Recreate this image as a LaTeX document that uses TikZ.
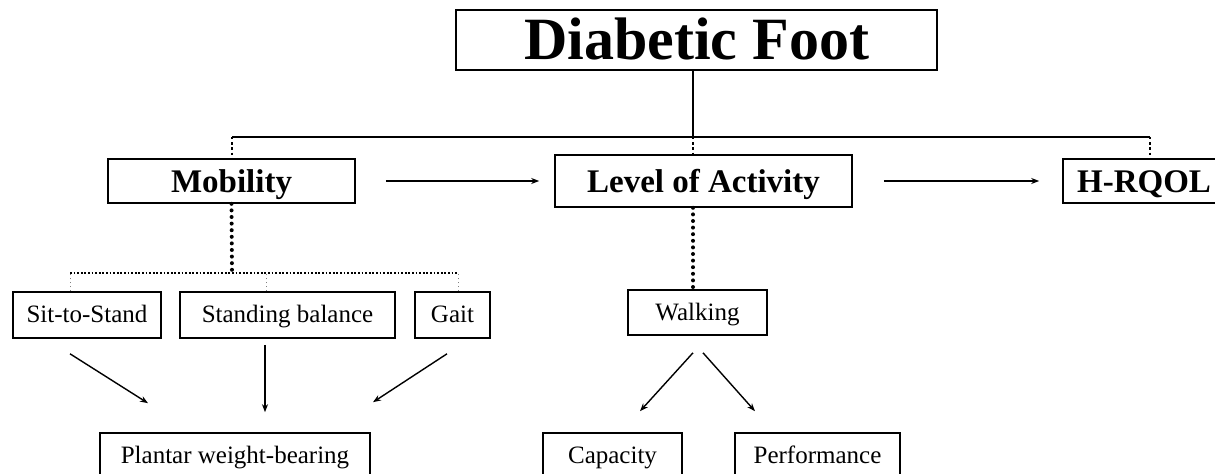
\documentclass[tikz,border=0pt]{standalone}
\usepackage{fontspec}
\setmainfont{Liberation Serif}
\usetikzlibrary{arrows,arrows.meta}

\begin{document}
\begin{tikzpicture}[
x=0.5pt, y=-0.5pt,
box/.style={draw, line width=0.8pt, inner sep=0pt, align=center},
title/.style={box, font=\fontsize{30}{34}\selectfont\bfseries, text height=21pt, text depth=1pt},
main/.style={box, font=\fontsize{16.5}{19}\selectfont\bfseries, text height=14pt, text depth=2pt},
sub/.style={box, font=\fontsize{12.5}{15}\selectfont, text height=10pt, text depth=2pt},
bar/.style={line width=1.4pt},
stem/.style={line width=0.8pt},
dotline/.style={line width=1pt, dash pattern=on 1.2pt off 1.4pt},
bigdot/.style={line width=2pt, line cap=round, dash pattern=on 0pt off 3.3pt},
thindot/.style={line width=0.5pt, gray, dash pattern=on 0.8pt off 1.2pt},
hdot/.style={line width=1pt, dash pattern=on 0.9pt off 0.9pt},
arrow/.style={-{Stealth[length=4pt,width=3pt]}, line width=0.7pt} ]

\useasboundingbox (0,0) rectangle (1215,474);

\node[title, minimum width=240.5pt, minimum height=30pt] (foot) at (696.5,40) {Diabetic Foot};

\node[main, minimum width=123.5pt, minimum height=22pt] (mob) at (231.5,181) {Mobility};
\node[main, minimum width=148.5pt, minimum height=26pt] (act) at (703.5,181) {Level of Activity};
\node[main, minimum width=81pt, minimum height=22pt] (hrq) at (1144,181) {H-RQOL};

\node[sub, minimum width=74pt, minimum height=23pt] (sts) at (87,315) {Sit-to-Stand};
\node[sub, minimum width=107.5pt, minimum height=23pt] (sb) at (287.5,315) {Standing balance};
\node[sub, minimum width=37.5pt, minimum height=23pt] (gait) at (452.5,315) {Gait};
\node[sub, minimum width=135pt, minimum height=23pt] (pwb) at (235,456) {Plantar weight-bearing};

\node[sub, minimum width=69.5pt, minimum height=22.5pt] (walk) at (697.5,312.5) {Walking};
\node[sub, minimum width=69.5pt, minimum height=23pt] (cap) at (612.5,456) {Capacity};
\node[sub, minimum width=82.5pt, minimum height=23pt] (perf) at (817.5,456) {Performance};

% tree from the top box
\coordinate (jl) at (232,137);
\coordinate (jm) at (693,137);
\coordinate (jr) at (1150,137);
\draw[bar] (jl) -- (jr);
\draw[stem] (foot.south -| jm) -- (jm);
\draw[dotline] (jl) -- (jl |- mob.north);
\draw[dotline] (jm) -- (jm |- act.north);
\draw[dotline] (jr) -- (jr |- hrq.north);

\draw[arrow, shorten <=15pt, shorten >=7.5pt] (mob) -- (act);
\draw[arrow, shorten <=15.5pt, shorten >=11.5pt] (act) -- (hrq);

% mobility branch
\coordinate (mbar) at (232,273);
\draw[bigdot] (mob.south) -- (mbar);
\draw[hdot] ([xshift=-8.5pt]sts.north |- mbar) -- ([xshift=2.75pt]gait.north |- mbar);
\draw[thindot] ([xshift=-8.5pt]sts.north) -- ([xshift=-8.5pt]sts.north |- mbar);
\draw[thindot] ([xshift=-10.75pt]sb.north) -- ([xshift=-10.75pt]sb.north |- mbar);
\draw[thindot] ([xshift=2.75pt]gait.north) -- ([xshift=2.75pt]gait.north |- mbar);

\draw[arrow] ([shift={(-17,15)}]sts.south) -- ([shift={(-87,-29)}]pwb.north);
\draw[arrow] ([shift={(-22.5,6)}]sb.south) -- ([shift={(30,-20)}]pwb.north);
\draw[arrow] ([shift={(-5.5,15)}]gait.south) -- ([shift={(138,-30)}]pwb.north);

% activity branch
\draw[bigdot] (act.south -| jm) -- (walk.north -| jm);
\draw[arrow] ([shift={(-4.5,17)}]walk.south) -- ([shift={(27.5,-21)}]cap.north);
\draw[arrow] ([shift={(5.5,17)}]walk.south) -- ([shift={(-62.5,-21)}]perf.north);

\end{tikzpicture}
\end{document}
